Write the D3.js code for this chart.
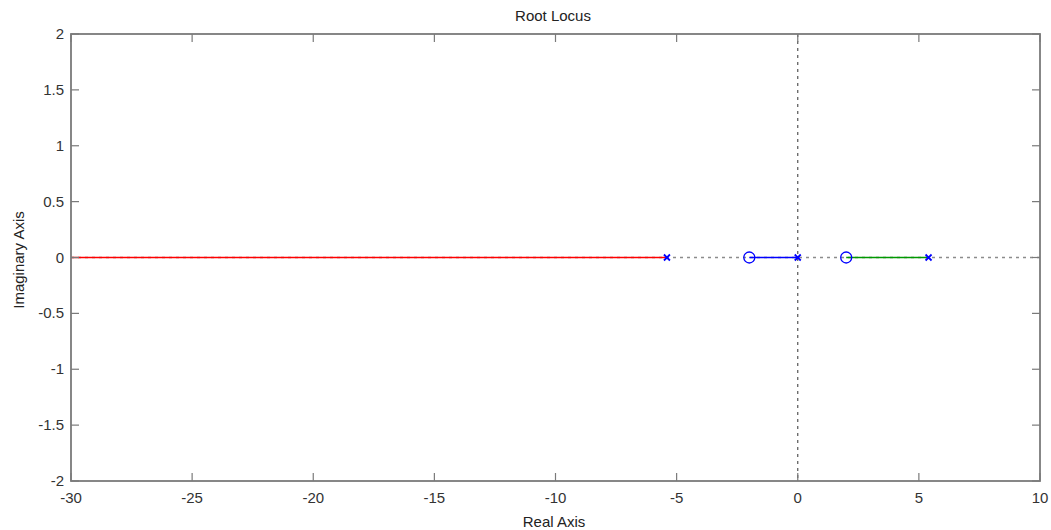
<!DOCTYPE html>
<html>
<head>
<meta charset="utf-8">
<script src="https://cdn.jsdelivr.net/npm/d3@7"></script>
<style>
body { margin: 0; background: #fff; }
text { font-family: "Liberation Sans", Arial, sans-serif; }
</style>
</head>
<body>
<div id="chart"></div>
<script>
//data
var x_ticks = [-30, -25, -20, -15, -10, -5, 0, 5, 10];
var y_ticks = [-2, -1.5, -1, -0.5, 0, 0.5, 1, 1.5, 2];
var poles = [-5.4, 0, 5.4];
var zeros = [-2, 2];
// branches along the real axis: [start, end]
var branch_red = [-30, -5.4];
var branch_blue = [-2, 0];
var branch_green = [2, 5.4];

var chart_width = 1051;
var chart_height = 530;
var m = {left: 71, right: 1040, top: 34, bottom: 481};

var x = d3.scaleLinear().domain([-30, 10]).range([m.left, m.right]);
var y = d3.scaleLinear().domain([-2, 2]).range([m.bottom, m.top]);

var svg = d3.select("#chart")
            .append("svg")
            .attr("width", chart_width)
            .attr("height", chart_height);

//dotted reference lines
svg.append("line")
    .attr("x1", x(-30)).attr("x2", x(10))
    .attr("y1", y(0)).attr("y2", y(0))
    .attr("stroke", "#8c8c8c").attr("stroke-width", 1.3)
    .attr("stroke-dasharray", "3,4");
svg.append("line")
    .attr("x1", x(0)).attr("x2", x(0))
    .attr("y1", y(2)).attr("y2", y(-2))
    .attr("stroke", "#555").attr("stroke-width", 1.2)
    .attr("stroke-dasharray", "3,4");

//branches
function branch(b, col){
    svg.append("line")
        .attr("x1", x(b[0])).attr("x2", x(b[1]))
        .attr("y1", y(0)).attr("y2", y(0))
        .attr("stroke", col).attr("stroke-width", 1.6);
}
branch(branch_red, "#ff0000");
branch(branch_blue, "#0000ff");
branch(branch_green, "#009900");

//poles
svg.selectAll(".pole")
    .data(poles)
    .enter()
    .append("path")
    .attr("class", "pole")
    .attr("d", function(d){
        var cx = x(d), cy = y(0), s = 3;
        return "M" + (cx - s) + "," + (cy - s) + "L" + (cx + s) + "," + (cy + s) +
               "M" + (cx - s) + "," + (cy + s) + "L" + (cx + s) + "," + (cy - s);
    })
    .attr("stroke", "#0000ff").attr("stroke-width", 1.8)
    .attr("fill", "none");

//zeros
svg.selectAll(".zero")
    .data(zeros)
    .enter()
    .append("circle")
    .attr("class", "zero")
    .attr("cx", function(d){ return x(d); })
    .attr("cy", y(0))
    .attr("r", 5.5)
    .attr("stroke", "#0000ff").attr("stroke-width", 1.3)
    .attr("fill", "none");

//axes box
var axis_col = "#7a7a7a";
var tick_len = 8;
var g_ax = svg.append("g");
x_ticks.forEach(function(t){
    g_ax.append("line").attr("x1", x(t)).attr("x2", x(t))
        .attr("y1", m.bottom).attr("y2", m.bottom - tick_len)
        .attr("stroke", axis_col).attr("stroke-width", 1.2);
    g_ax.append("line").attr("x1", x(t)).attr("x2", x(t))
        .attr("y1", m.top).attr("y2", m.top + tick_len)
        .attr("stroke", axis_col).attr("stroke-width", 1.2);
});
y_ticks.forEach(function(t){
    g_ax.append("line").attr("y1", y(t)).attr("y2", y(t))
        .attr("x1", m.left).attr("x2", m.left + tick_len)
        .attr("stroke", axis_col).attr("stroke-width", 1.2);
    g_ax.append("line").attr("y1", y(t)).attr("y2", y(t))
        .attr("x1", m.right).attr("x2", m.right - tick_len)
        .attr("stroke", axis_col).attr("stroke-width", 1.2);
});
g_ax.append("rect")
    .attr("x", m.left).attr("y", m.top)
    .attr("width", m.right - m.left).attr("height", m.bottom - m.top)
    .attr("fill", "none").attr("stroke", axis_col).attr("stroke-width", 1.8);

//tick labels
svg.selectAll(".xl")
    .data(x_ticks)
    .enter()
    .append("text")
    .attr("class", "xl")
    .attr("x", function(d){ return x(d); })
    .attr("y", m.bottom + 22)
    .attr("text-anchor", "middle")
    .attr("font-size", 15)
    .attr("fill", "#333")
    .text(function(d){ return d; });

svg.selectAll(".yl")
    .data(y_ticks)
    .enter()
    .append("text")
    .attr("class", "yl")
    .attr("x", m.left - 7)
    .attr("y", function(d){ return y(d) + 5; })
    .attr("text-anchor", "end")
    .attr("font-size", 15)
    .attr("fill", "#333")
    .text(function(d){ return d; });

//titles
svg.append("text")
    .attr("x", 553).attr("y", 21)
    .attr("text-anchor", "middle").attr("font-size", 15)
    .attr("fill", "#222")
    .text("Root Locus");
svg.append("text")
    .attr("x", 554).attr("y", 527)
    .attr("text-anchor", "middle").attr("font-size", 15)
    .attr("fill", "#222")
    .text("Real Axis");
svg.append("text")
    .attr("transform", "translate(24,260) rotate(-90)")
    .attr("text-anchor", "middle").attr("font-size", 15)
    .attr("fill", "#222")
    .text("Imaginary Axis");
</script>
</body>
</html>
